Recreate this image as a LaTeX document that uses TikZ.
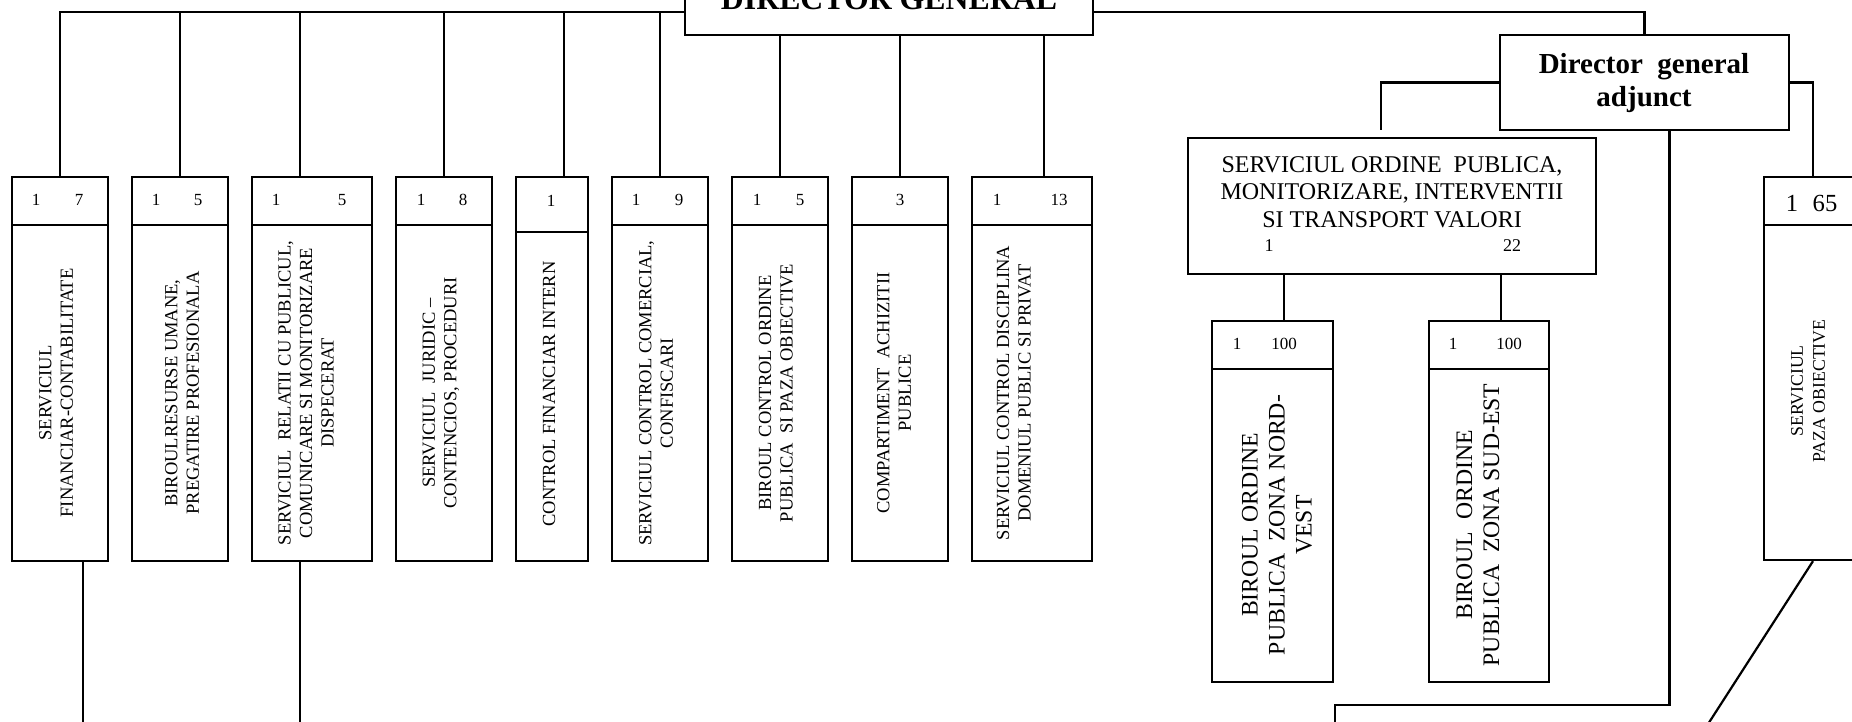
\documentclass[tikz,border=0pt]{standalone}
\usepackage{fontspec}
\setmainfont{Liberation Serif}
\usetikzlibrary{fit}
\newcommand\mkcol[4]{%
  \node[bx, fit={(#2,177)(#3,#4)}] (r#1) {};
  \node[bx, fit={(#2,#4)(#3,561)}] (b#1) {};}
\begin{document}
\begin{tikzpicture}[x=0.5pt,y=-0.5pt, line width=1.1pt,
  bx/.style={draw, inner sep=0pt, line width=1.1pt},
  num/.style={inner sep=0pt, font=\fontsize{8.5}{10}\selectfont},
  vt/.style={rotate=90, align=center, inner sep=0pt, font=\fontsize{9.25}{10.75}\selectfont},
  hd/.style={anchor=base, inner sep=0pt}]
\useasboundingbox (0,0) rectangle (1852,722);
\clip (0,0) rectangle (1852,722);
\coordinate (bus) at (0,12);
\coordinate (bot) at (0,760);
% director general
\node[bx, fit={(685,-40)(1093,35)}] (dg) {};
\node[hd, font=\fontsize{15.9}{18}\selectfont\bfseries] (dgt) at (889,10) {DIRECTOR GENERAL};
% columns
\mkcol{1}{12}{108}{225}
\mkcol{2}{132}{228}{225}
\mkcol{3}{252}{372}{225}
\mkcol{4}{396}{492}{225}
\mkcol{5}{516}{588}{232}
\mkcol{6}{612}{708}{225}
\mkcol{7}{732}{828}{225}
\mkcol{8}{852}{948}{225}
\mkcol{9}{972}{1092}{225}
% numbers
\node[num] (n1a) at (36,200) {1};   \node[num] (n1b) at (79,200) {7};
\node[num] (n2a) at (156,200) {1};  \node[num] (n2b) at (198,200) {5};
\node[num] (n3a) at (276,200) {1};  \node[num] (n3b) at (342,200) {5};
\node[num] (n4a) at (421,200) {1};  \node[num] (n4b) at (463,200) {8};
\node[num] (n5a) at (551,201) {1};
\node[num] (n6a) at (636,200) {1};  \node[num] (n6b) at (679,200) {9};
\node[num] (n7a) at (757,200) {1};  \node[num] (n7b) at (800,200) {5};
\node[num] (n8a) at (900,200) {3};
\node[num] (n9a) at (997,200) {1};  \node[num] (n9b) at (1059,200) {13};
% column texts
\node[vt] (t1) at (56,393) {SERVICIUL\\FINANCIAR-CONTABILITATE};
\node[vt] (t2) at (182,393) {BIROULRESURSE UMANE,\\PREGATIRE PROFESIONALA};
\node[vt] (t3) at (306,393) {SERVICIUL~ RELATII CU PUBLICUL,\\COMUNICARE SI MONITORIZARE\\DISPECERAT};
\node[vt] (t4) at (441,393) {SERVICIUL~ JURIDIC –\\CONTENCIOS, PROCEDURI};
\node[vt] (t5) at (549,394) {CONTROL FINANCIAR INTERN};
\node[vt] (t6) at (656,393) {SERVICIUL CONTROL COMERCIAL,\\CONFISCARI};
\node[vt] (t7) at (776,393) {BIROUL CONTROL ORDINE\\PUBLICA~ SI PAZA OBIECTIVE};
\node[vt] (t8) at (894,393) {COMPARTIMENT~ ACHIZITII\\PUBLICE};
\node[vt] (t9) at (1014,393) {SERVICIUL CONTROL DISCIPLINA\\DOMENIUL PUBLIC SI PRIVAT};
% adjunct
\node[bx, fit={(1500,35)(1789,130)}] (adj) {};
\node[hd, font=\fontsize{14.5}{16}\selectfont\bfseries] (adj1) at (1644,74) {Director~ general};
\node[hd, font=\fontsize{14.5}{16}\selectfont\bfseries] (adj2) at (1644,106) {adjunct};
% serviciul ordine publica
\node[bx, fit={(1188,138)(1596,274)}] (so) {};
\node[hd, font=\fontsize{12}{14}\selectfont] (so1) at (1392,172) {SERVICIUL ORDINE~ PUBLICA,};
\node[hd, font=\fontsize{12}{14}\selectfont] (so2) at (1392,199) {MONITORIZARE, INTERVENTII};
\node[hd, font=\fontsize{12}{14}\selectfont] (so3) at (1392,227) {SI TRANSPORT VALORI};
\node[num, font=\fontsize{9}{10}\selectfont] (so4) at (1269,246) {1};
\node[num, font=\fontsize{9}{10}\selectfont] (so5) at (1512,246) {22};
% birouri
\node[bx, fit={(1212,321)(1333,369)}] (rnw) {};
\node[bx, fit={(1212,369)(1333,682)}] (bnw) {};
\node[num] (nnwa) at (1237,344) {1}; \node[num] (nnwb) at (1284,344) {100};
\node[vt, font=\fontsize{11.85}{13.5}\selectfont] (tnw) at (1277,525) {BIROUL ORDINE\\PUBLICA~ ZONA NORD-\\VEST};
\node[bx, fit={(1429,321)(1549,369)}] (rse) {};
\node[bx, fit={(1429,369)(1549,682)}] (bse) {};
\node[num] (nsea) at (1453,344) {1}; \node[num] (nseb) at (1509,344) {100};
\node[vt, font=\fontsize{11.85}{13.5}\selectfont] (tse) at (1478,525) {BIROUL~ ORDINE\\PUBLICA~ ZONA SUD-EST};
% paza
\node[bx, fit={(1764,177)(1856,225)}] (rpz) {};
\node[bx, fit={(1764,225)(1856,560)}] (bpz) {};
\node[num, font=\fontsize{12.3}{14}\selectfont] (npza) at (1792,203) {1};
\node[num, font=\fontsize{12.3}{14}\selectfont] (npzb) at (1825,203) {65};
\node[vt, font=\fontsize{8.9}{11}\selectfont] (tpz) at (1808,391) {SERVICIUL\\PAZA OBIECTIVE};
% connectors
\draw (r1.north) |- (dg.west |- bus);
\draw (r2.north) -- (r2.north |- bus);
\coordinate (c3) at ([xshift=-6pt]r3.north); \draw (c3) -- (c3 |- bus);
\draw (r4.north) -- (r4.north |- bus);
\coordinate (c5) at ([xshift=6pt]r5.north); \draw (c5) -- (c5 |- bus);
\draw (r6.north) -- (r6.north |- bus);
\draw (r7.north) -- (r7.north |- dg.south);
\draw (r8.north) -- (r8.north |- dg.south);
\coordinate (c9) at ([xshift=6pt]r9.north); \draw (c9) -- (c9 |- dg.south);
\draw (dg.east |- bus) -| (adj.north);
\coordinate (soT) at (1381,130);
\draw (adj.west) -| (soT);
\coordinate (cpz) at ([xshift=1.5pt]rpz.north);
\draw (adj.east) -| (cpz);
\coordinate (ca) at ([xshift=12.5pt]adj.south);
\coordinate (cb) at (1335,705);
\coordinate (cc) at (1335,760);
\draw (ca) |- (cb) -- (cc);
\coordinate (cnw) at ([xshift=5.75pt]rnw.north); \draw (cnw) -- (cnw |- so.south);
\coordinate (cse) at ([xshift=6pt]rse.north); \draw (cse) -- (cse |- so.south);
\coordinate (d1) at ([xshift=11.5pt]b1.south); \draw (d1) -- (d1 |- bot);
\coordinate (d3) at ([xshift=-6pt]b3.south); \draw (d3) -- (d3 |- bot);
\coordinate (dz) at ([xshift=1.5pt]bpz.south);
\coordinate (dzend) at (1690,752);
\draw (dz) -- (dzend);
\end{tikzpicture}
\end{document}
